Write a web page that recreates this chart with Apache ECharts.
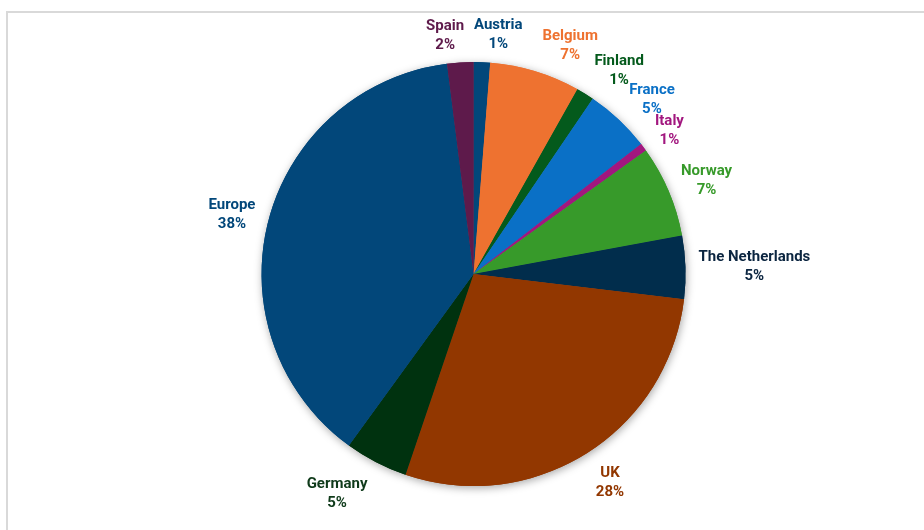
<!DOCTYPE html>
<html>
<head>
<meta charset="utf-8">
<script src="https://cdn.jsdelivr.net/npm/echarts@6/dist/echarts.min.js"></script>
<style>
html,body{margin:0;padding:0;background:#fff;overflow:hidden;}
#frame{position:absolute;left:6px;top:11px;width:1000px;height:600px;border-left:2px solid #d9d9d9;border-top:2px solid #d9d9d9;box-sizing:border-box;}
#chart{position:absolute;left:0;top:0;width:924px;height:530px;}
</style>
</head>
<body>
<div id="frame"></div>
<div id="chart"></div>
<script>
const categories = ['Austria','Belgium','Finland','France','Italy','Norway','The Netherlands','UK','Germany','Europe','Spain'];
const values = [1.25, 6.9, 1.35, 5.0, 0.6, 7.0, 4.8, 28.3, 4.8, 38.0, 2.0];
const colors = ['#02477A','#EE7230','#045A1C','#0A70C6','#A2177F','#379A2A','#012D4C','#923700','#00320F','#02477A','#5E1A4B'];
const labelColors = ['#02477A','#EE7230','#045A1C','#0A70C6','#A2177F','#379A2A','#0B2540','#923700','#0F3A1A','#02477A','#5E1A4B'];

// label direction derived from the slice mid-angles
const total = values.reduce((a,b)=>a+b,0);
const midDirX = [], midDirY = [];
let acc = 0;
values.forEach(v=>{
  const mid = (acc + v/2)/total;
  midDirX.push(Math.sin(mid*2*Math.PI));
  midDirY.push(-Math.cos(mid*2*Math.PI));
  acc += v;
});

const data = categories.map((c,i)=>({
  name:c, value:values[i],
  itemStyle:{color:colors[i]},
  label:{color:labelColors[i]}
}));

const chart = echarts.init(document.getElementById('chart'), null, {renderer:'canvas'});
const center = ['51.25%','51.7%'];
const radius = '80%';
chart.setOption({
  animation:false,
  series:[
    {
      type:'pie', silent:true, z:1,
      center:center, radius:radius, startAngle:90, clockwise:true,
      avoidLabelOverlap:false,
      label:{show:false}, labelLine:{show:false},
      data: categories.map((c,i)=>({name:c,value:values[i],itemStyle:{color:colors[i],shadowBlur:8,shadowColor:'rgba(0,0,0,0.35)',shadowOffsetY:2,shadowOffsetX:1}}))
    },
    {
      type:'pie', z:2,
      center:center, radius:radius, startAngle:90, clockwise:true,
      avoidLabelOverlap:false,
      percentPrecision:0,
      label:{
        show:true, position:'outside',
        formatter:'{b}\n{d}%',
        fontFamily:'Roboto', fontWeight:'bold', fontSize:15, lineHeight:19,
        distanceToLabelLine:5
      },
      labelLine:{show:false, length:8, length2:0},
      labelLayout:function(p){
        const r = p.labelRect;
        const dX = midDirX[p.dataIndex], dY = midDirY[p.dataIndex];
        const pull = -Math.sign(dX) * (r.width/2) * 0.63 * Math.max(0, 1 - 3.4*Math.abs(dX));
        return {
          x: r.x + r.width/2 + pull,
          align:'center',
          dy: dY*r.height/2 + (dY > 0 ? dY*8 : 0)
        };
      },
      data:data
    }
  ]
});
</script>
</body>
</html>
